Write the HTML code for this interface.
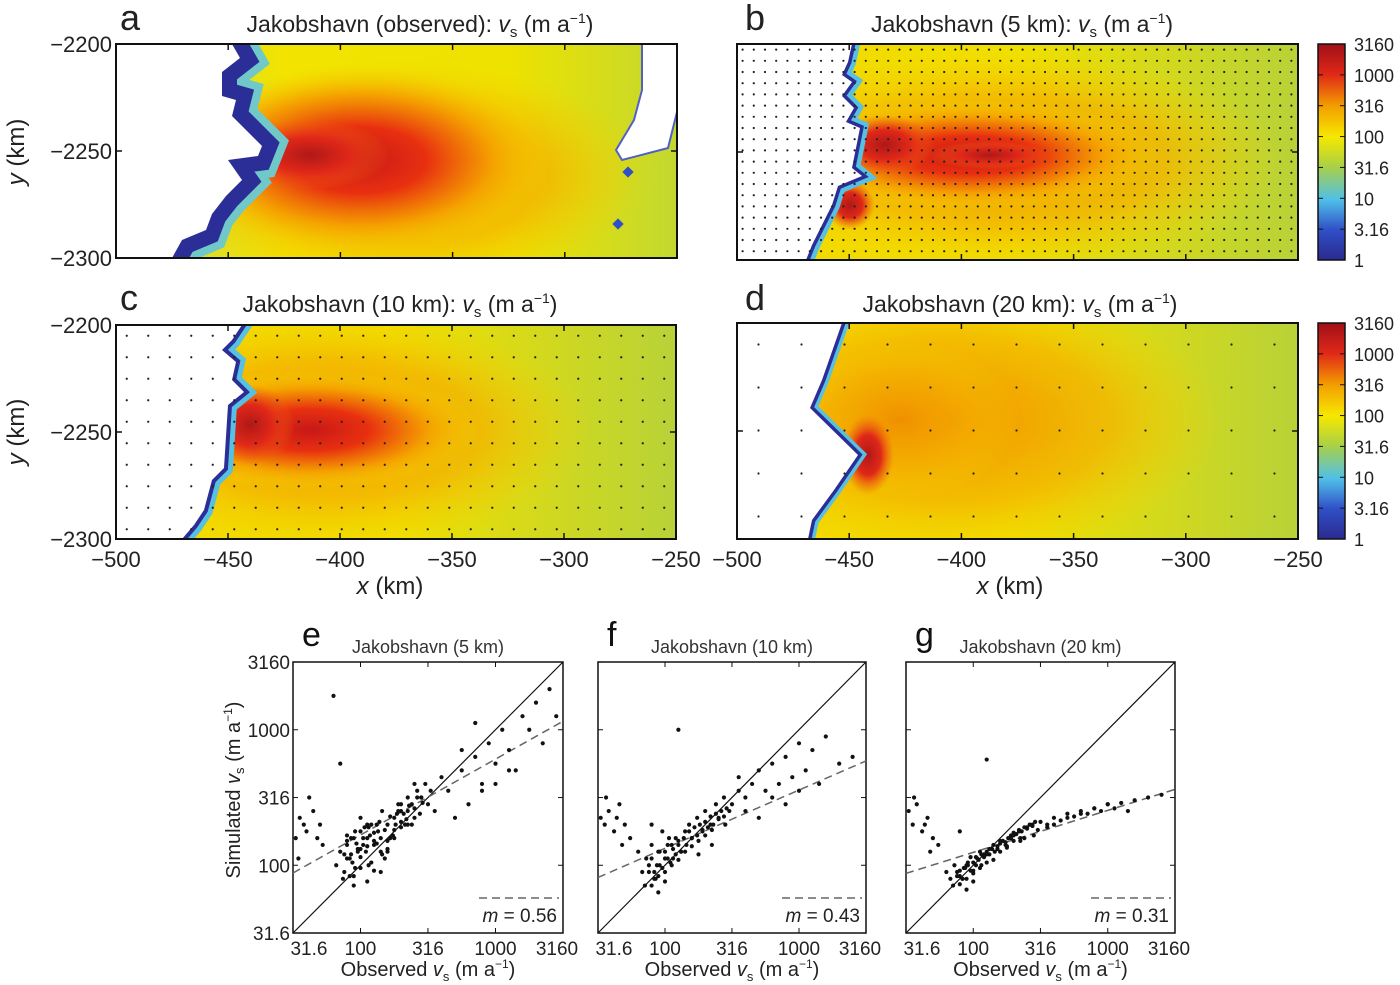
<!DOCTYPE html>
<html><head><meta charset="utf-8">
<style>
html,body{margin:0;padding:0;background:#fff;}
svg{display:block;font-family:"Liberation Sans",Arial,sans-serif;}
</style></head>
<body>
<svg id="fig" width="1400" height="985" viewBox="0 0 1400 985" xmlns="http://www.w3.org/2000/svg">
<defs>
  <linearGradient id="cbar" x1="0" y1="1" x2="0" y2="0">
    <stop offset="0" stop-color="#2a2a8e"/>
    <stop offset="0.14" stop-color="#3050c8"/>
    <stop offset="0.28" stop-color="#50c0e8"/>
    <stop offset="0.43" stop-color="#a8d048"/>
    <stop offset="0.57" stop-color="#f6e800"/>
    <stop offset="0.71" stop-color="#f3a000"/>
    <stop offset="0.86" stop-color="#e02818"/>
    <stop offset="1" stop-color="#a01018"/>
  </linearGradient>
  <linearGradient id="bgA" x1="0" y1="0" x2="1" y2="0">
    <stop offset="0" stop-color="#c8d850"/><stop offset="0.3" stop-color="#f2e400"/>
    <stop offset="0.7" stop-color="#eee200"/><stop offset="1" stop-color="#c2d830"/>
  </linearGradient>
  <linearGradient id="bgC" x1="0" y1="0" x2="1" y2="0">
    <stop offset="0" stop-color="#f4d800"/><stop offset="0.5" stop-color="#f0e000"/>
    <stop offset="1" stop-color="#b8d238"/>
  </linearGradient>
  <radialGradient id="hotA" cx="0.5" cy="0.5" r="0.5">
    <stop offset="0" stop-color="#c81818"/><stop offset="0.35" stop-color="#e83010"/>
    <stop offset="0.7" stop-color="#f5a000" stop-opacity="0.9"/><stop offset="1" stop-color="#f5d800" stop-opacity="0"/>
  </radialGradient>
  <radialGradient id="warm" cx="0.5" cy="0.5" r="0.5">
    <stop offset="0" stop-color="#f09000"/><stop offset="0.6" stop-color="#f4b000" stop-opacity="0.7"/>
    <stop offset="1" stop-color="#f4d000" stop-opacity="0"/>
  </radialGradient>
  <radialGradient id="red" cx="0.5" cy="0.5" r="0.5">
    <stop offset="0" stop-color="#b01818"/><stop offset="0.5" stop-color="#e02818"/>
    <stop offset="1" stop-color="#f06010" stop-opacity="0"/>
  </radialGradient>
  <clipPath id="clipA"><rect x="116" y="44" width="561" height="214"/></clipPath>
  <clipPath id="clipB"><rect x="737" y="44" width="561" height="216"/></clipPath>
  <clipPath id="clipC"><rect x="116" y="325" width="560" height="214"/></clipPath>
  <clipPath id="clipD"><rect x="737" y="323" width="561" height="216"/></clipPath>
</defs>

<!-- Panel a -->
<g clip-path="url(#clipA)">
  <rect x="116" y="44" width="561" height="214" fill="url(#bgA)"/>
  <ellipse cx="400" cy="175" rx="250" ry="115" fill="url(#warm)"/>
  <ellipse cx="360" cy="160" rx="190" ry="95" fill="url(#hotA)"/>
  <ellipse cx="310" cy="155" rx="80" ry="35" fill="url(#red)"/>
  <polygon points="116,44 232,44 240,58 222,72 222,96 236,100 232,116 262,146 258,156 228,160 242,180 226,196 212,214 206,230 182,240 172,258 116,258" fill="none" stroke="#70c8c8" stroke-width="46" stroke-linejoin="miter"/>
  <polygon points="116,44 232,44 240,58 222,72 222,96 236,100 232,116 262,146 258,156 228,160 242,180 226,196 212,214 206,230 182,240 172,258 116,258" fill="none" stroke="#2a2e96" stroke-width="30"/>
  <polygon points="116,44 232,44 240,58 222,72 222,96 236,100 232,116 262,146 258,156 228,160 242,180 226,196 212,214 206,230 182,240 172,258 116,258" fill="#fff"/>
  <polygon points="642,44 677,44 677,112 668,148 622,160 616,150 634,120 642,90" fill="#fff" stroke="#5060c8" stroke-width="2"/>
  <rect x="624" y="168" width="8" height="8" transform="rotate(45 628 172)" fill="#3050c8"/>
  <rect x="614" y="220" width="8" height="8" transform="rotate(45 618 224)" fill="#3050c8"/>
</g>
<rect x="116" y="44" width="561" height="214" fill="none" stroke="#111" stroke-width="2"/>

<!-- Panel b -->
<g clip-path="url(#clipB)">
  <rect x="737" y="44" width="561" height="216" fill="url(#bgC)"/>
  <ellipse cx="1000" cy="160" rx="280" ry="110" fill="url(#warm)"/>
  <ellipse cx="970" cy="155" rx="190" ry="55" fill="url(#hotA)"/>
  <ellipse cx="885" cy="145" rx="50" ry="30" fill="url(#red)"/>
  <ellipse cx="990" cy="155" rx="60" ry="14" fill="url(#red)"/>
  <ellipse cx="850" cy="205" rx="25" ry="25" fill="url(#red)"/>
  <polygon points="737,44 852,44 848,62 842,75 852,82 842,96 854,108 846,122 860,128 852,168 862,176 838,186 832,205 822,225 812,245 806,260 737,260" fill="none" stroke="#58c0e0" stroke-width="16"/>
  <polygon points="737,44 852,44 848,62 842,75 852,82 842,96 854,108 846,122 860,128 852,168 862,176 838,186 832,205 822,225 812,245 806,260 737,260" fill="none" stroke="#2a2e96" stroke-width="7"/>
  <polygon points="737,44 852,44 848,62 842,75 852,82 842,96 854,108 846,122 860,128 852,168 862,176 838,186 832,205 822,225 812,245 806,260 737,260" fill="#fff"/>
  <g id="dotsB"></g>
</g>
<rect x="737" y="44" width="561" height="216" fill="none" stroke="#111" stroke-width="2"/>

<!-- Panel c -->
<g clip-path="url(#clipC)">
  <rect x="116" y="325" width="560" height="214" fill="url(#bgC)"/>
  <ellipse cx="330" cy="430" rx="260" ry="120" fill="url(#warm)"/>
  <ellipse cx="310" cy="430" rx="170" ry="60" fill="url(#hotA)"/>
  <ellipse cx="250" cy="425" rx="45" ry="40" fill="url(#red)"/>
  <polygon points="116,325 242,325 232,340 222,350 236,362 232,380 244,392 228,405 224,468 212,480 204,510 194,525 182,539 116,539" fill="none" stroke="#58c0e0" stroke-width="18"/>
  <polygon points="116,325 242,325 232,340 222,350 236,362 232,380 244,392 228,405 224,468 212,480 204,510 194,525 182,539 116,539" fill="none" stroke="#2a2e96" stroke-width="8"/>
  <polygon points="116,325 242,325 232,340 222,350 236,362 232,380 244,392 228,405 224,468 212,480 204,510 194,525 182,539 116,539" fill="#fff"/>
  <g id="dotsC"></g>
</g>
<rect x="116" y="325" width="560" height="214" fill="none" stroke="#111" stroke-width="2"/>

<!-- Panel d -->
<g clip-path="url(#clipD)">
  <rect x="737" y="323" width="561" height="216" fill="url(#bgC)"/>
  <ellipse cx="950" cy="420" rx="270" ry="140" fill="url(#warm)"/>
  <ellipse cx="900" cy="420" rx="120" ry="80" fill="url(#warm)"/>
  <ellipse cx="868" cy="455" rx="26" ry="40" fill="url(#red)"/>
  <polygon points="737,323 842,323 822,380 810,408 858,455 834,490 812,520 808,539 737,539" fill="none" stroke="#58c0e0" stroke-width="14"/>
  <polygon points="737,323 842,323 822,380 810,408 858,455 834,490 812,520 808,539 737,539" fill="none" stroke="#2a2e96" stroke-width="7"/>
  <polygon points="737,323 842,323 822,380 810,408 858,455 834,490 812,520 808,539 737,539" fill="#fff"/>
  <g id="dotsD"></g>
</g>
<rect x="737" y="323" width="561" height="216" fill="none" stroke="#111" stroke-width="2"/>

<!-- Colorbars -->
<rect x="1318" y="44" width="27" height="216" fill="url(#cbar)" stroke="#111" stroke-width="1.5"/>
<rect x="1318" y="323" width="27" height="216" fill="url(#cbar)" stroke="#111" stroke-width="1.5"/>
<g id="cbticks" font-size="18" fill="#222"></g>

<!-- Titles -->
<g font-size="23" fill="#222">
  <text x="120" y="30" font-size="36">a</text>
  <text x="745" y="30" font-size="36">b</text>
  <text x="120" y="310" font-size="36">c</text>
  <text x="745" y="310" font-size="36">d</text>
  <text x="420" y="32" text-anchor="middle">Jakobshavn (observed): <tspan font-style="italic">v</tspan><tspan font-size="15" dy="5">s</tspan><tspan dy="-5"> (m a</tspan><tspan font-size="14" dy="-9">−1</tspan><tspan dy="9">)</tspan></text>
  <text x="1022" y="32" text-anchor="middle">Jakobshavn (5 km): <tspan font-style="italic">v</tspan><tspan font-size="15" dy="5">s</tspan><tspan dy="-5"> (m a</tspan><tspan font-size="14" dy="-9">−1</tspan><tspan dy="9">)</tspan></text>
  <text x="400" y="312" text-anchor="middle">Jakobshavn (10 km): <tspan font-style="italic">v</tspan><tspan font-size="15" dy="5">s</tspan><tspan dy="-5"> (m a</tspan><tspan font-size="14" dy="-9">−1</tspan><tspan dy="9">)</tspan></text>
  <text x="1020" y="312" text-anchor="middle">Jakobshavn (20 km): <tspan font-style="italic">v</tspan><tspan font-size="15" dy="5">s</tspan><tspan dy="-5"> (m a</tspan><tspan font-size="14" dy="-9">−1</tspan><tspan dy="9">)</tspan></text>
</g>
<g id="mapaxes" font-size="22" fill="#222"></g>
<text transform="translate(24,152) rotate(-90)" text-anchor="middle" font-size="24" fill="#222"><tspan font-style="italic">y</tspan> (km)</text>
<text transform="translate(24,432) rotate(-90)" text-anchor="middle" font-size="24" fill="#222"><tspan font-style="italic">y</tspan> (km)</text>
<text x="390" y="594" text-anchor="middle" font-size="24" fill="#222"><tspan font-style="italic">x</tspan> (km)</text>
<text x="1010" y="594" text-anchor="middle" font-size="24" fill="#222"><tspan font-style="italic">x</tspan> (km)</text>

<g id="scatters"></g>
<text transform="translate(240,790) rotate(-90)" text-anchor="middle" font-size="20" fill="#222">Simulated <tspan font-style="italic">v</tspan><tspan font-size="13" dy="4">s</tspan><tspan dy="-4"> (m a</tspan><tspan font-size="12" dy="-8">−1</tspan><tspan dy="8">)</tspan></text>
</svg>
<script>
// ---------- data ----------
const cbLabels = ["3160","1000","316","100","31.6","10","3.16","1"];
const xTicks = [-500,-450,-400,-350,-300,-250];
const yTicks = [-2200,-2250,-2300];
const scatterTicks = [31.6,100,316,1000,3160];
const scatterTickLabels = ["31.6","100","316","1000","3160"];
const scatterTitles = ["Jakobshavn (5 km)","Jakobshavn (10 km)","Jakobshavn (20 km)"];
const scatterLetters = ["e","f","g"];
const slopes = [0.56,0.43,0.31];
const intercepts = [1.943,1.91,1.94]; // log10 sim at obs=31.6
// scatter values in log10(m/a)
const obsE = [1.55,1.52,1.58,1.6,1.65,1.7,1.72,1.54,1.62,1.68, 1.82,1.85,1.88,1.9,1.92,1.95,1.98,2.0,2.02,2.05, 1.87,1.9,1.93,1.96,2.0,2.03,2.06,2.1,2.12,2.15, 2.0,2.05,2.08,2.1,2.13,2.16,2.2,2.22,2.25,2.28, 2.3,2.33,2.35,2.38,2.4,2.42,2.45,2.48,2.5,2.52, 2.2,2.25,2.3,2.35,2.4,2.45,2.55,2.6,2.65,2.7, 2.75,2.8,2.85,2.9,2.95,3.0,3.05,3.1,3.15,3.2, 3.25,3.3,3.35,3.4,3.45,2.9,3.0,3.1,2.85,2.75, 1.8,1.85,1.95,2.05,2.15,1.93,1.97,2.07,2.18,2.27,
 1.88,1.9,1.92,1.94,1.96,1.98,2.0,2.02,2.04,2.06,2.08,2.1,2.12,2.14,2.16,2.18,2.2,2.22,2.24,2.26,2.28,2.3,2.32,2.34,2.36,2.38,2.4,2.42,2.44,2.46,1.9,1.95,2.0,2.05,2.1,2.15,2.2,2.25,2.3,2.35];
const simE = [2.35,2.2,2.3,2.25,2.4,2.3,2.15,2.05,2.5,2.2, 2.0,2.1,1.95,2.15,2.05,2.2,2.1,2.25,2.15,2.3, 1.9,2.05,2.2,1.98,2.12,2.28,2.0,2.18,2.3,2.1, 2.35,2.2,2.3,2.15,2.25,2.4,2.3,2.2,2.35,2.45, 2.4,2.3,2.5,2.45,2.35,2.55,2.5,2.6,2.45,2.55, 2.1,2.2,2.45,2.3,2.6,2.5,2.4,2.65,2.55,2.35, 2.7,2.45,2.8,2.6,2.9,2.75,3.0,2.85,2.7,3.1, 3.0,3.2,2.9,3.3,3.1,2.55,2.6,2.7,3.05,2.85, 3.25,2.75,1.85,1.88,1.95,2.08,2.16,2.22,2.05,2.38,
 2.08,2.18,1.92,2.02,2.25,2.12,1.98,2.2,2.1,2.28,2.02,2.24,2.16,2.32,2.08,2.26,2.18,2.36,2.22,2.3,2.4,2.28,2.38,2.34,2.44,2.3,2.42,2.5,2.38,2.46,2.22,1.92,2.06,2.14,1.96,2.2,2.12,2.26,2.32,2.4];
const obsF = [1.52,1.55,1.58,1.62,1.66,1.7,1.74,1.56,1.64,1.68, 1.8,1.83,1.86,1.9,1.93,1.96,2.0,2.03,2.06,2.1, 1.85,1.88,1.92,1.95,1.98,2.02,2.05,2.08,2.12,2.15, 2.18,2.2,2.24,2.28,2.3,2.34,2.38,2.4,2.44,2.48, 2.5,2.55,2.6,2.65,2.7,2.75,2.8,2.85,2.9,2.95, 3.0,3.05,3.1,3.15,3.2,3.3,3.4,2.6,2.7,2.8, 2.9,3.0,2.55,2.45,2.35,2.1,1.95,1.9,2.0,2.25,
 1.88,1.9,1.92,1.94,1.96,1.98,2.0,2.02,2.04,2.06,2.08,2.1,2.12,2.14,2.16,2.18,2.2,2.22,2.24,2.26,2.28,2.3,2.32,2.34,2.36,2.38,2.4,2.42,2.44,2.46,1.9,1.95,2.0,2.05,2.1,2.15,2.2,2.25,2.3,2.35];
const simF = [2.35,2.3,2.4,2.25,2.45,2.3,2.2,2.5,2.35,2.15, 2.1,1.95,2.05,2.15,1.9,2.0,2.1,2.2,2.05,2.15, 1.85,2.0,1.95,2.1,2.25,2.05,2.15,2.2,2.1,2.25, 2.3,2.2,2.35,2.25,2.4,2.3,2.45,2.35,2.5,2.4, 2.45,2.55,2.5,2.6,2.7,2.55,2.75,2.6,2.8,2.65, 2.9,2.7,2.85,2.6,2.95,2.75,2.8,2.4,2.35,2.5, 2.45,2.55,2.65,2.3,2.15,3.0,1.8,2.3,1.88,2.08,
 1.95,2.05,1.9,2.0,2.1,1.98,2.05,2.15,2.02,2.12,2.08,2.18,2.1,2.2,2.15,2.25,2.2,2.28,2.22,2.3,2.26,2.32,2.28,2.36,2.3,2.38,2.34,2.4,2.36,2.42,1.85,1.92,1.95,2.0,2.04,2.1,2.14,2.18,2.22,2.26];
const obsG = [1.52,1.55,1.58,1.62,1.66,1.7,1.74,1.56,1.64,1.68, 1.8,1.83,1.86,1.9,1.93,1.96,2.0,2.03,2.06,2.1, 1.85,1.88,1.92,1.95,1.98,2.02,2.05,2.08,2.12,2.15, 2.18,2.2,2.24,2.28,2.3,2.34,2.38,2.4,2.44,2.48, 2.5,2.55,2.6,2.65,2.7,2.75,2.8,2.85,2.9,2.95, 3.0,3.05,3.1,3.15,3.2,3.3,3.4,2.6,2.7,2.8, 2.9,3.0,2.55,2.45,2.35,2.1,1.95,1.9,2.0,2.25,
 1.88,1.9,1.92,1.94,1.96,1.98,2.0,2.02,2.04,2.06,2.08,2.1,2.12,2.14,2.16,2.18,2.2,2.22,2.24,2.26,2.28,2.3,2.32,2.34,2.36,2.38,2.4,2.42,2.44,2.46,1.9,1.95,2.0,2.05,2.1,2.15,2.2,2.25,2.3,2.35];
const simG = [2.4,2.3,2.45,2.25,2.35,2.2,2.15,2.5,2.3,2.1, 1.95,1.9,2.0,1.92,1.98,2.02,1.96,2.05,2.0,2.08, 1.85,1.95,1.9,2.0,2.06,2.0,2.1,2.08,2.12,2.15, 2.12,2.18,2.15,2.2,2.22,2.25,2.2,2.28,2.3,2.26, 2.32,2.3,2.35,2.33,2.38,2.36,2.4,2.38,2.42,2.4, 2.45,2.42,2.46,2.4,2.48,2.5,2.52,2.3,2.35,2.38, 2.42,2.45,2.28,2.22,2.18,2.78,1.82,2.25,1.88,2.14,
 1.92,1.96,1.9,1.98,2.0,1.96,2.02,2.06,2.04,2.08,2.06,2.1,2.08,2.12,2.1,2.14,2.16,2.18,2.17,2.2,2.22,2.24,2.23,2.26,2.25,2.28,2.27,2.3,2.29,2.32,1.86,1.9,1.94,1.98,2.02,2.04,2.1,2.13,2.18,2.2];
const obsSets = [obsE,obsF,obsG];
const simSets = [simE,simF,simG];

const NS = "http://www.w3.org/2000/svg";
function mk(tag, attrs, parent, text){
  const e = document.createElementNS(NS, tag);
  for (const k in attrs) e.setAttribute(k, attrs[k]);
  if (text !== undefined) e.textContent = text;
  parent.appendChild(e); return e;
}

// colorbar labels
const cb = document.getElementById("cbticks");
[[44,216],[323,216]].forEach(([top,h])=>{
  cbLabels.forEach((l,i)=>{
    const y = top + i*h/(cbLabels.length-1);
    const t = mk("text",{x:1354,y:y+7},cb,l);
    
    
    mk("line",{x1:1318,x2:1323,y1:y,y2:y,stroke:"#111"},cb);
    mk("line",{x1:1340,x2:1345,y1:y,y2:y,stroke:"#111"},cb);
  });
});

// map axes
const ax = document.getElementById("mapaxes");
const maps = [
  {x0:116,x1:677,y0:44,y1:258,xl:false,yl:true},
  {x0:737,x1:1298,y0:44,y1:260,xl:false,yl:false},
  {x0:116,x1:676,y0:325,y1:539,xl:true,yl:true},
  {x0:737,x1:1298,y0:323,y1:539,xl:true,yl:false}];
maps.forEach(m=>{
  const sx = v => m.x0 + (v+500)/250*(m.x1-m.x0);
  const sy = v => m.y0 + (-2200 - v)/100*(m.y1-m.y0);
  xTicks.forEach(v=>{
    const x = sx(v);
    mk("line",{x1:x,x2:x,y1:m.y0,y2:m.y0+6,stroke:"#111","stroke-width":1.5},ax);
    mk("line",{x1:x,x2:x,y1:m.y1,y2:m.y1-6,stroke:"#111","stroke-width":1.5},ax);
    if (m.xl){
      const t = mk("text",{x:x,y:m.y1+28,"text-anchor":"middle"},ax,"−"+Math.abs(v));
      
      
    }
  });
  yTicks.forEach(v=>{
    const y = sy(v);
    mk("line",{x1:m.x0,x2:m.x0+6,y1:y,y2:y,stroke:"#111","stroke-width":1.5},ax);
    mk("line",{x1:m.x1,x2:m.x1-6,y1:y,y2:y,stroke:"#111","stroke-width":1.5},ax);
    if (m.yl){
      const t = mk("text",{x:m.x0-4,y:y+8,"text-anchor":"end"},ax,"−"+Math.abs(v));
      
      
    }
  });
});

// model grid dots
function dots(id, x0, y0, x1, y1, step){
  const g = document.getElementById(id);
  for (let y = y0 + step/2; y < y1; y += step)
    for (let x = x0 + step/2; x < x1; x += step)
      mk("circle",{cx:x,cy:y,r:1.1,fill:"#222"},g);
}
dots("dotsB",737,44,1298,260,11.2);
dots("dotsC",116,325,676,539,21.5);
dots("dotsD",737,323,1298,539,43);

// scatter plots
const sc = document.getElementById("scatters");
const boxes = [{x0:293,x1:563,y0:662,y1:933},{x0:598,x1:866,y0:662,y1:933},{x0:906,x1:1175,y0:662,y1:933}];
boxes.forEach((b,k)=>{
  const g = mk("g",{},sc);
  
  
  const sx = lv => b.x0 + (lv-1.5)/2*(b.x1-b.x0);
  const sy = lv => b.y1 - (lv-1.5)/2*(b.y1-b.y0);
  mk("rect",{x:b.x0,y:b.y0,width:b.x1-b.x0,height:b.y1-b.y0,fill:"#fff",stroke:"#111","stroke-width":1.5},g);
  mk("line",{x1:sx(1.5),y1:sy(1.5),x2:sx(3.5),y2:sy(3.5),stroke:"#111","stroke-width":1.2},g);
  const m = slopes[k], c = intercepts[k];
  const rl = mk("line",{x1:sx(1.5),y1:sy(c),x2:sx(3.5),y2:sy(c+2*m),stroke:"#666","stroke-width":1.5,"stroke-dasharray":"8,5"},g);
  
  
  const ob = obsSets[k], si = simSets[k];
  ob.forEach((o,i)=>{
    const p = mk("circle",{cx:sx(o),cy:sy(si[i]),r:2.1,fill:"#111"},g);
    
    
  });
  scatterTicks.forEach((v,i)=>{
    const lv = Math.log10(v);
    const x = sx(lv), y = sy(lv);
    mk("line",{x1:x,x2:x,y1:b.y1,y2:b.y1-5,stroke:"#111"},g);
    mk("line",{x1:x,x2:x,y1:b.y0,y2:b.y0+5,stroke:"#111"},g);
    mk("line",{x1:b.x0,x2:b.x0+5,y1:y,y2:y,stroke:"#111"},g);
    mk("line",{x1:b.x1,x2:b.x1-5,y1:y,y2:y,stroke:"#111"},g);
    const t = mk("text",{x:x+(i==0?16:i==4?-6:0),y:b.y1+22,"text-anchor":"middle","font-size":19,fill:"#222"},g,scatterTickLabels[i]);
    
    
    if (k==0){
      const t2 = mk("text",{x:b.x0-3,y:y+7,"text-anchor":"end","font-size":19,fill:"#222"},g,scatterTickLabels[i]);
      
      
    }
  });
  mk("line",{x1:b.x1-84,x2:b.x1-4,y1:898,y2:898,stroke:"#666","stroke-width":1.5,"stroke-dasharray":"8,5"},g);
  const lt = mk("text",{x:b.x1-6,y:922,"text-anchor":"end","font-size":19,fill:"#222"},g);
  
  
  mk("tspan",{"font-style":"italic"},lt,"m");
  mk("tspan",{},lt," = "+slopes[k].toFixed(2));
  const ttl = mk("text",{x:(b.x0+b.x1)/2,y:653,"text-anchor":"middle","font-size":18,fill:"#333"},g,scatterTitles[k]);
  
  
  const let_ = mk("text",{x:b.x0+9,y:646,"font-size":34,fill:"#111"},g,scatterLetters[k]);
  
  
  const xl = mk("text",{x:(b.x0+b.x1)/2,y:976,"text-anchor":"middle","font-size":20,fill:"#222"},g);
  
  
  mk("tspan",{},xl,"Observed ");
  mk("tspan",{"font-style":"italic"},xl,"v");
  mk("tspan",{"font-size":13,dy:5},xl,"s");
  mk("tspan",{dy:-5},xl," (m a");
  mk("tspan",{"font-size":12,dy:-8},xl,"−1");
  mk("tspan",{dy:8},xl,")");
});
</script>
</body></html>
